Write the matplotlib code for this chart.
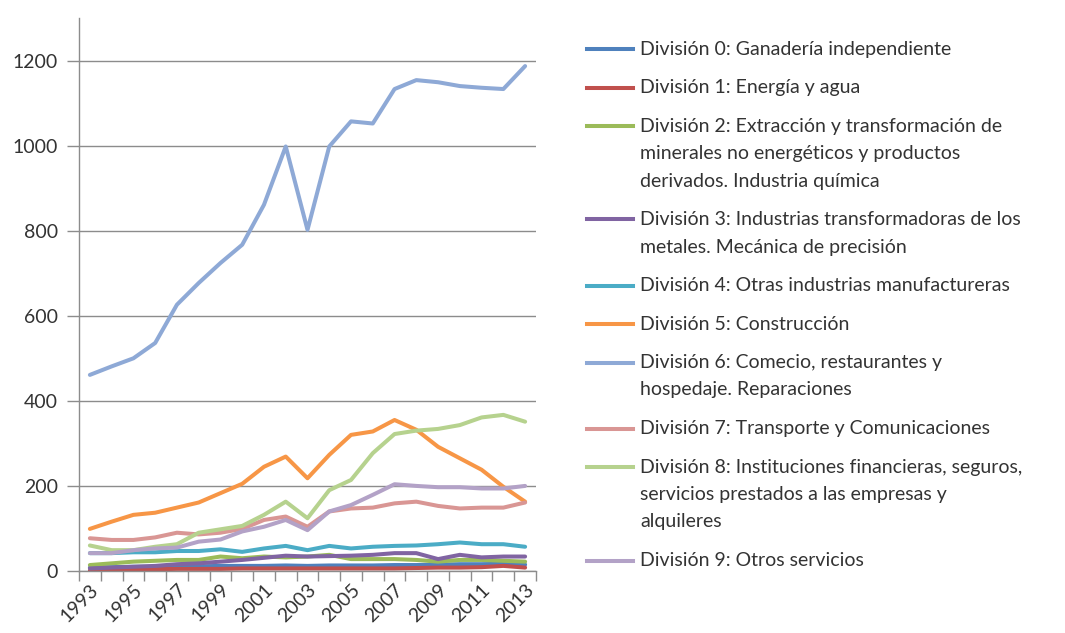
import matplotlib
matplotlib.use("Agg")
import matplotlib.pyplot as plt
from matplotlib.lines import Line2D

plt.rcParams['font.family'] = ['Lato', 'DejaVu Sans']

years = list(range(1993, 2014))

div0 = [8, 9, 10, 10, 11, 11, 12, 12, 12, 13, 12, 13, 13, 13, 14, 14, 15, 16, 16, 17, 15]
div1 = [1, 2, 3, 4, 5, 5, 5, 6, 6, 6, 6, 6, 6, 6, 6, 7, 8, 8, 9, 12, 8]
div2 = [14, 18, 22, 24, 26, 26, 34, 30, 34, 32, 34, 38, 28, 28, 28, 26, 22, 26, 26, 24, 22]
div3 = [6, 8, 10, 12, 16, 18, 22, 26, 31, 36, 34, 35, 36, 38, 42, 42, 28, 38, 32, 34, 34]
div4 = [42, 42, 44, 44, 47, 47, 51, 45, 53, 59, 49, 59, 53, 57, 59, 60, 63, 67, 63, 63, 57]
div5 = [99, 116, 132, 137, 149, 161, 183, 205, 245, 269, 218, 273, 320, 328, 355, 332, 292, 265, 238, 198, 163]
div6 = [461, 481, 500, 536, 626, 677, 724, 767, 861, 998, 802, 998, 1057, 1052, 1133, 1154, 1149, 1140, 1136, 1133, 1187]
div7 = [77, 73, 73, 79, 90, 86, 90, 99, 120, 128, 104, 140, 147, 149, 159, 163, 153, 147, 149, 149, 161]
div8 = [60, 49, 49, 57, 63, 90, 98, 106, 132, 163, 124, 190, 214, 277, 322, 330, 334, 343, 361, 367, 351]
div9 = [42, 42, 49, 53, 55, 69, 74, 93, 104, 120, 96, 140, 155, 179, 204, 200, 197, 197, 194, 194, 200]

labels = [
    ["División 0: Ganadería independiente"],
    ["División 1: Energía y agua"],
    ["División 2: Extracción y transformación de",
     "minerales no energéticos y productos",
     "derivados. Industria química"],
    ["División 3: Industrias transformadoras de los",
     "metales. Mecánica de precisión"],
    ["División 4: Otras industrias manufactureras"],
    ["División 5: Construcción"],
    ["División 6: Comecio, restaurantes y",
     "hospedaje. Reparaciones"],
    ["División 7: Transporte y Comunicaciones"],
    ["División 8: Instituciones financieras, seguros,",
     "servicios prestados a las empresas y",
     "alquileres"],
    ["División 9: Otros servicios"],
]

series = [div0, div1, div2, div3, div4, div5, div6, div7, div8, div9]
colors = ['#4F81BD', '#C0504D', '#9BBB59', '#8064A2', '#4BACC6',
          '#F79646', '#8EA9D6', '#D99694', '#B6D28E', '#B3A2C7']

W, H = 1065, 633
fig = plt.figure(figsize=(W / 100, H / 100), dpi=100)
ax = fig.add_axes([79 / W, 1 - 571 / H, (536 - 79) / W, (571 - 18) / H])

for vals, c in zip(series, colors):
    ax.plot(years, vals, color=c, lw=2.9, solid_capstyle='round',
            solid_joinstyle='round')

ax.set_xlim(1992.5, 2013.5)
ax.set_ylim(0, 1300)
ax.set_yticks(range(0, 1201, 200))
ax.yaxis.grid(True, color='#8c8c8c', lw=1.0)
ax.set_axisbelow(True)

# category axis: tick marks between years, labels on every other year
ax.set_xticks([y - 0.5 for y in years] + [years[-1] + 0.5])
ax.set_xticklabels([])
ax.set_xticks(years[::2], minor=True)
ax.set_xticklabels([str(y) for y in years[::2]], minor=True,
                   rotation=45, ha='right', va='top',
                   rotation_mode='anchor', fontsize=14, color='#333333')
ax.tick_params(axis='x', which='minor', length=0, pad=7)
ax.tick_params(axis='x', which='major', length=7, color='#8c8c8c', width=1)
ax.tick_params(axis='y', length=9, color='#8c8c8c', width=1,
               labelsize=14, labelcolor='#333333', pad=6)

for s in ['top', 'right']:
    ax.spines[s].set_visible(False)
for s in ['left', 'bottom']:
    ax.spines[s].set_color('#8c8c8c')
    ax.spines[s].set_linewidth(1.0)

# legend, drawn by hand so multi-line labels line up like the original
y = 49
for lines, c in zip(labels, colors):
    fy = 1 - y / H
    fig.add_artist(Line2D([587 / W, 633 / W], [fy, fy], color=c, lw=2.9,
                          transform=fig.transFigure))
    for i, txt in enumerate(lines):
        fig.text(640 / W, 1 - (y + 27.5 * i) / H, txt, fontsize=14,
                 color='#333333', va='center', ha='left')
    y += 27.5 * (len(lines) - 1) + 38.5

fig.savefig('out.png', dpi=100)
